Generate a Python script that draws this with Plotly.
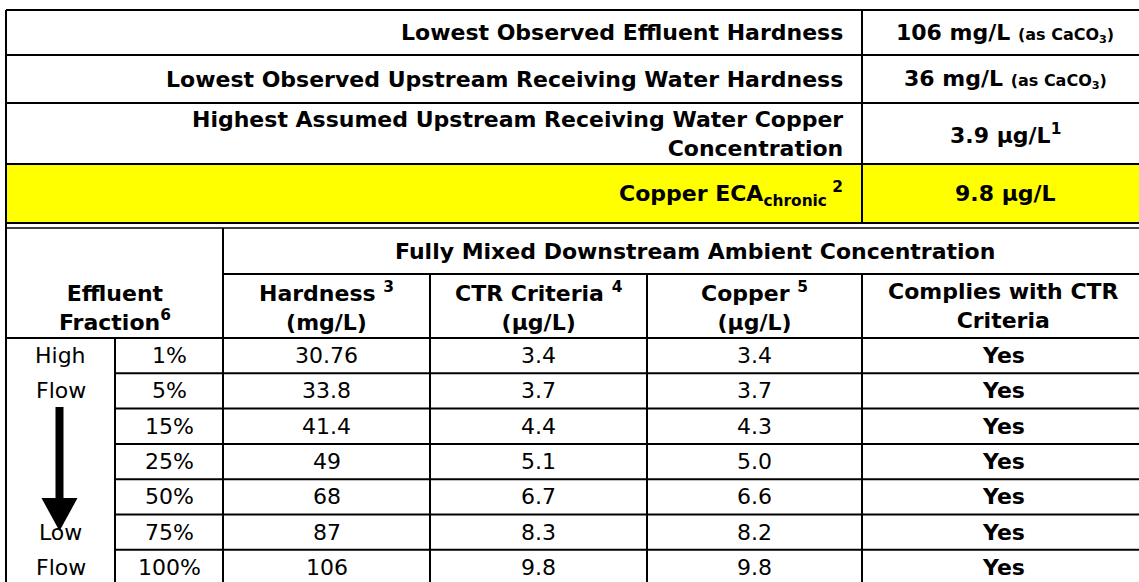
import plotly.graph_objects as go

# ---- table content -------------------------------------------------------
summary_labels = [
    "Lowest Observed Effluent Hardness",
    "Lowest Observed Upstream Receiving Water Hardness",
    "Highest Assumed Upstream Receiving Water Copper<br>Concentration",
    "Copper ECA<sub>chronic</sub><sup> 2</sup>",
]
summary_values = [
    "106 mg/L <span style='font-size:16px'>(as CaCO<sub>3</sub>)</span>",
    "36 mg/L <span style='font-size:16px'>(as CaCO<sub>3</sub>)</span>",
    "3.9 µg/L<sup>1</sup>",
    "9.8 µg/L",
]

group_header = "Fully Mixed Downstream Ambient Concentration"
fraction_header = "Effluent<br>Fraction<sup>6</sup>"
column_headers = [
    "Hardness <sup>3</sup><br>(mg/L)",
    "CTR Criteria <sup>4</sup><br>(µg/L)",
    "Copper <sup>5</sup><br>(µg/L)",
    "Complies with CTR<br>Criteria",
]

flow_labels = ["High", "Flow", "", "", "", "Low", "Flow"]
fractions = ["1%", "5%", "15%", "25%", "50%", "75%", "100%"]
hardness = ["30.76", "33.8", "41.4", "49", "68", "87", "106"]
ctr_criteria = ["3.4", "3.7", "4.4", "5.1", "6.7", "8.3", "9.8"]
copper = ["3.4", "3.7", "4.3", "5.0", "6.6", "8.2", "9.8"]
complies = ["Yes", "Yes", "Yes", "Yes", "Yes", "Yes", "Yes"]

# ---- geometry (pixels) ---------------------------------------------------
W, H = 1139, 582
FONT = "DejaVu Sans, Verdana, sans-serif"
SIZE_B = 22      # bold labels
SIZE_R = 22      # plain cell values
LW = 2

XL, XR, XS = 6, 1148, 862            # outer left/right, label|value split
TOP_ROWS = [10, 55, 103, 164, 223]   # summary block row edges
Y_DBL = 228                          # second rule of the double line
Y_GRP = 274                          # bottom of group header
Y_HDR = 338                          # bottom of column headers
ROW_H = 35.3
COLS = [XL, 115, 223, 430, 647, XS, XR]

shapes = []


def hline(y, x0=XL, x1=XR, w=LW):
    shapes.append(dict(type="line", x0=x0, x1=x1, y0=y, y1=y,
                       line=dict(color="black", width=w)))


def vline(x, y0, y1, w=LW):
    shapes.append(dict(type="line", x0=x, x1=x, y0=y0, y1=y1,
                       line=dict(color="black", width=w)))


annotations = []


def text(x, y, s, bold=False, xanchor="center", size=None):
    size = size or (SIZE_B if bold else SIZE_R)
    annotations.append(dict(
        x=x, y=y, xref="x", yref="y", text=f"<b>{s}</b>" if bold else s,
        showarrow=False, xanchor=xanchor, yanchor="middle",
        align="right" if xanchor == "right" else "center",
        font=dict(family=FONT, size=size, color="black"),
    ))


# yellow highlight row
shapes.append(dict(type="rect", x0=XL, x1=XR, y0=TOP_ROWS[3], y1=TOP_ROWS[4],
                   fillcolor="#ffff00", line=dict(width=0), layer="below"))

# summary block
for y in TOP_ROWS:
    hline(y)
hline(Y_DBL, w=1.6)
vline(XS, TOP_ROWS[0], TOP_ROWS[-1])
for i, (lab, val) in enumerate(zip(summary_labels, summary_values)):
    yc = (TOP_ROWS[i] + TOP_ROWS[i + 1]) / 2
    text(XS - 17, yc, lab, bold=True, xanchor="right")
    text(1005, yc, val, bold=True)

# lower table frame
n = len(fractions)
y_bottom = Y_HDR + ROW_H * n
hline(Y_GRP, x0=COLS[2])
hline(Y_HDR)
for i in range(1, n):
    hline(Y_HDR + ROW_H * i, x0=COLS[1])
hline(y_bottom)
vline(XL, TOP_ROWS[0], y_bottom)
vline(COLS[1], Y_HDR, y_bottom)
vline(COLS[2], Y_DBL, y_bottom)
for x in COLS[3:6]:
    vline(x, Y_GRP, y_bottom)

text(695, (Y_DBL + Y_GRP) / 2, group_header, bold=True)
text((COLS[0] + COLS[2]) / 2, (Y_GRP + Y_HDR) / 2 + 2, fraction_header, bold=True)
centers = [(COLS[j] + COLS[j + 1]) / 2 for j in range(5)] + [1003]
for j, hdr in enumerate(column_headers):
    text(centers[j + 2], (Y_GRP + Y_HDR) / 2, hdr, bold=True)

# data rows
columns = [flow_labels, fractions, hardness, ctr_criteria, copper, complies]
for i in range(n):
    yc = Y_HDR + ROW_H * i + ROW_H / 2
    for j, col in enumerate(columns):
        if col[i]:
            text(centers[j], yc, col[i], bold=(j == 5))

# flow-direction arrow in the first column
ax = 59.5
shapes.append(dict(type="rect", x0=ax - 4, x1=ax + 4, y0=407, y1=500,
                   fillcolor="black", line=dict(width=0)))
shapes.append(dict(type="path",
                   path=f"M {ax - 18} 498 L {ax + 18} 498 L {ax} 531 Z",
                   fillcolor="black", line=dict(width=0)))

fig = go.Figure()
fig.update_layout(
    width=W, height=H,
    margin=dict(l=0, r=0, t=0, b=0),
    paper_bgcolor="white", plot_bgcolor="white",
    xaxis=dict(range=[0, W], visible=False, fixedrange=True),
    yaxis=dict(range=[H, 0], visible=False, fixedrange=True),
    shapes=shapes, annotations=annotations,
    showlegend=False,
)
fig.write_html("out.html", config={"displayModeBar": False},
               post_script="document.body.style.margin='0px';")
